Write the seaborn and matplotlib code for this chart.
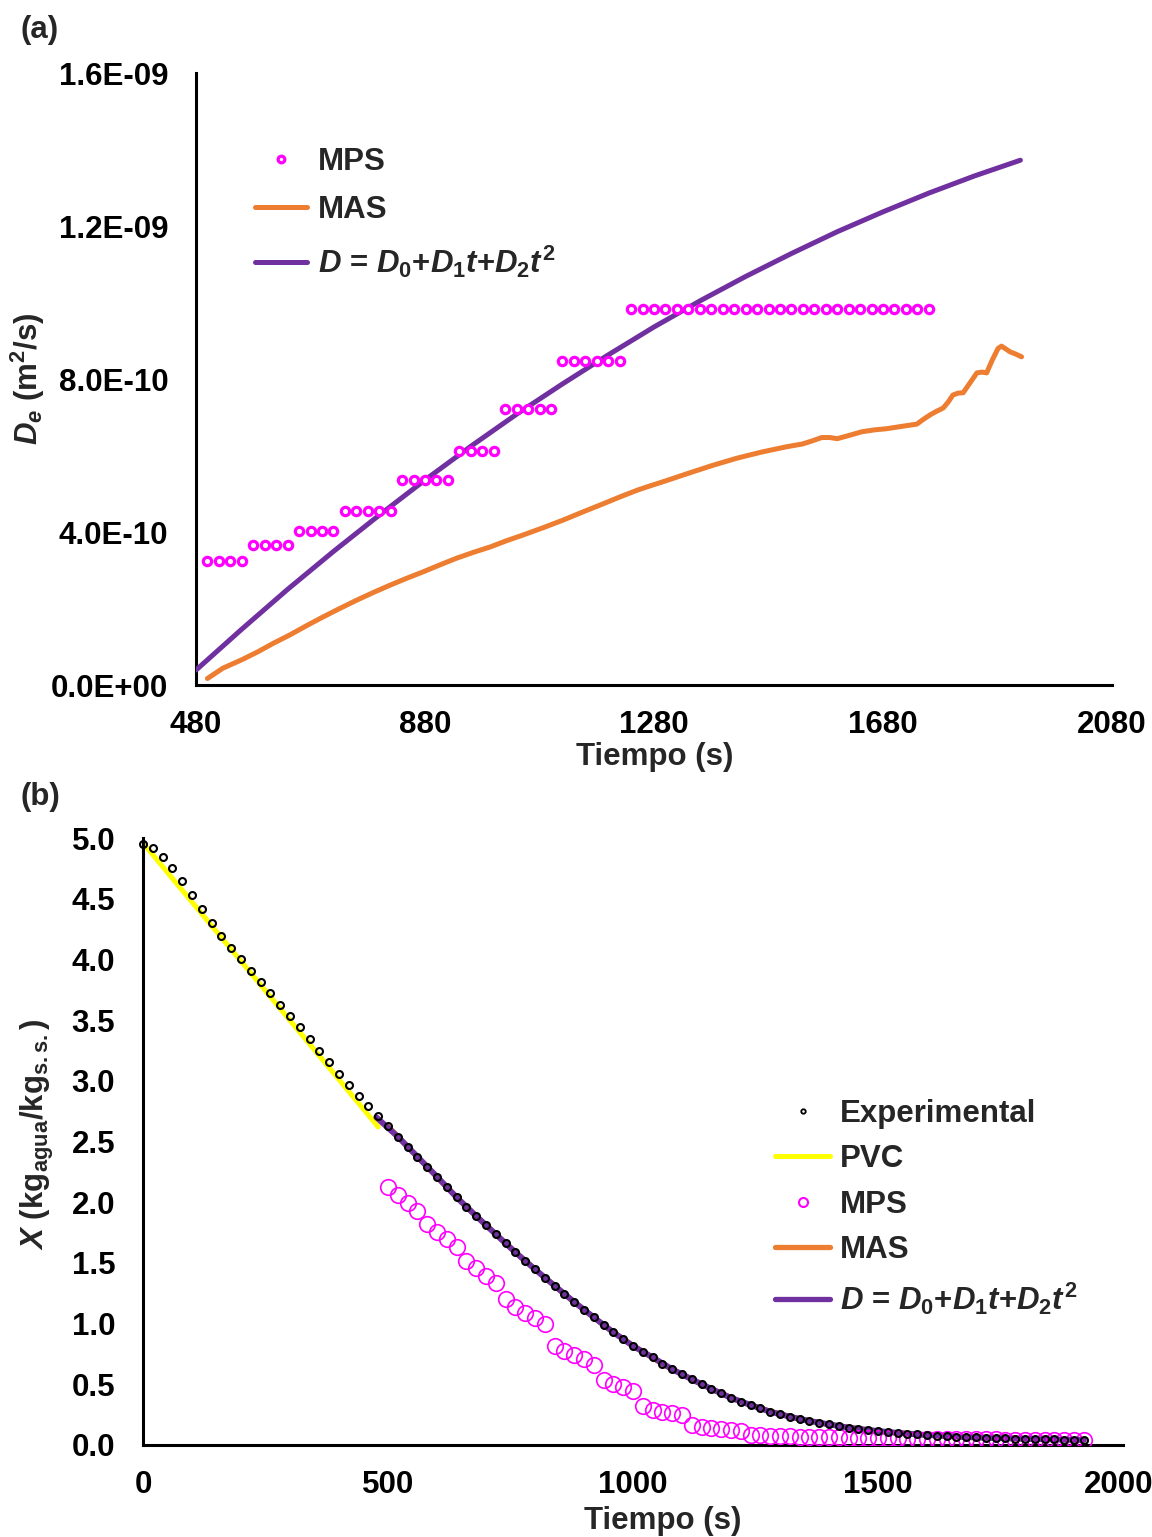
import matplotlib
matplotlib.use("Agg")
import matplotlib.pyplot as plt
import matplotlib.transforms as mtransforms
from matplotlib.lines import Line2D
import seaborn as sns
import numpy as np

# ---------------- Panel (a) data ----------------
a_xticks = [480, 880, 1280, 1680, 2080]
a_yticks = [0.0, 4.0e-10, 8.0e-10, 1.2e-9, 1.6e-9]
a_yticklabels = ["0.0E+00", "4.0E-10", "8.0E-10", "1.2E-09", "1.6E-09"]

a_mps_t = [500, 520, 540, 560,
           580, 600, 620, 640,
           660, 680, 700, 720,
           740, 760, 780, 800, 820,
           840, 860, 880, 900, 920,
           940, 960, 980, 1000,
           1020, 1040, 1060, 1080, 1100,
           1120, 1140, 1160, 1180, 1200, 1220,
           1240, 1260, 1280, 1300, 1320, 1340, 1360, 1380, 1400, 1420, 1440,
           1460, 1480, 1500, 1520, 1540, 1560, 1580, 1600, 1620, 1640, 1660,
           1680, 1700, 1720, 1740, 1760]
a_mps_D = [3.24e-10, 3.24e-10, 3.24e-10, 3.24e-10,
           3.66e-10, 3.66e-10, 3.66e-10, 3.66e-10,
           4.03e-10, 4.03e-10, 4.03e-10, 4.03e-10,
           4.55e-10, 4.55e-10, 4.55e-10, 4.55e-10, 4.55e-10,
           5.36e-10, 5.36e-10, 5.36e-10, 5.36e-10, 5.36e-10,
           6.12e-10, 6.12e-10, 6.12e-10, 6.12e-10,
           7.22e-10, 7.22e-10, 7.22e-10, 7.22e-10, 7.22e-10,
           8.47e-10, 8.47e-10, 8.47e-10, 8.47e-10, 8.47e-10, 8.47e-10,
           9.83e-10, 9.83e-10, 9.83e-10, 9.83e-10, 9.83e-10, 9.83e-10, 9.83e-10,
           9.83e-10, 9.83e-10, 9.83e-10, 9.83e-10, 9.83e-10, 9.83e-10, 9.83e-10,
           9.83e-10, 9.83e-10, 9.83e-10, 9.83e-10, 9.83e-10, 9.83e-10, 9.83e-10,
           9.83e-10, 9.83e-10, 9.83e-10, 9.83e-10, 9.83e-10, 9.83e-10]

a_mas_t = [500, 527, 560, 587, 615, 644, 673, 702, 731, 761, 790, 819, 848, 877,
           906, 936, 965, 994, 1022, 1051, 1086, 1121, 1155, 1190, 1221, 1252,
           1274, 1295, 1317, 1339, 1382, 1425, 1468, 1512, 1539, 1556, 1573,
           1587, 1600, 1622, 1643, 1665, 1686, 1712, 1739, 1751, 1762, 1774,
           1785, 1794, 1802, 1811, 1820, 1832, 1844, 1853, 1861, 1871, 1881,
           1887, 1894, 1902, 1912, 1922]
a_mas_D = [0.17e-10, 0.44e-10, 0.66e-10, 0.86e-10, 1.09e-10, 1.31e-10, 1.55e-10,
           1.78e-10, 2.00e-10, 2.22e-10, 2.42e-10, 2.61e-10, 2.79e-10, 2.96e-10,
           3.14e-10, 3.32e-10, 3.47e-10, 3.61e-10, 3.77e-10, 3.92e-10, 4.11e-10,
           4.31e-10, 4.52e-10, 4.73e-10, 4.92e-10, 5.10e-10, 5.21e-10, 5.31e-10,
           5.42e-10, 5.53e-10, 5.74e-10, 5.93e-10, 6.09e-10, 6.23e-10, 6.30e-10,
           6.38e-10, 6.47e-10, 6.47e-10, 6.44e-10, 6.53e-10, 6.62e-10, 6.67e-10,
           6.70e-10, 6.76e-10, 6.82e-10, 6.95e-10, 7.06e-10, 7.16e-10, 7.24e-10,
           7.40e-10, 7.58e-10, 7.63e-10, 7.64e-10, 7.90e-10, 8.16e-10, 8.18e-10,
           8.16e-10, 8.50e-10, 8.80e-10, 8.86e-10, 8.79e-10, 8.71e-10, 8.65e-10,
           8.58e-10]

a_poly_t = [480, 560, 640, 720, 800, 880, 960, 1040, 1120, 1200, 1280, 1360,
            1440, 1520, 1600, 1680, 1760, 1840, 1920]
a_poly_D = [0.39e-10, 1.46e-10, 2.50e-10, 3.49e-10, 4.44e-10, 5.36e-10, 6.24e-10,
            7.08e-10, 7.87e-10, 8.63e-10, 9.36e-10, 10.04e-10, 10.68e-10,
            11.28e-10, 11.85e-10, 12.37e-10, 12.86e-10, 13.31e-10, 13.72e-10]

# ---------------- Panel (b) data ----------------
b_xticks = [0, 500, 1000, 1500, 2000]
b_yticks = [0.0, 0.5, 1.0, 1.5, 2.0, 2.5, 3.0, 3.5, 4.0, 4.5, 5.0]

b_exp_t = [0, 20, 40, 60, 80, 100, 120, 140, 160, 180, 200, 220, 240, 260, 280,
           300, 320, 340, 360, 380, 400, 420, 440, 460, 480, 500, 520, 540, 560,
           580, 600, 620, 640, 660, 680, 700, 720, 740, 760, 780, 800, 820, 840,
           860, 880, 900, 920, 940, 960, 980, 1000, 1020, 1040, 1060, 1080, 1100,
           1120, 1140, 1160, 1180, 1200, 1220, 1240, 1260, 1280, 1300, 1320, 1340,
           1360, 1380, 1400, 1420, 1440, 1460, 1480, 1500, 1520, 1540, 1560, 1580,
           1600, 1620, 1640, 1660, 1680, 1700, 1720, 1740, 1760, 1780, 1800, 1820,
           1840, 1860, 1880, 1900, 1920]
b_exp_X = [4.95, 4.915, 4.846, 4.750, 4.646, 4.530, 4.415, 4.302, 4.193, 4.096,
           4.001, 3.907, 3.811, 3.721, 3.627, 3.534, 3.441, 3.342, 3.248, 3.155,
           3.059, 2.968, 2.877, 2.792, 2.713, 2.625, 2.540, 2.457, 2.375, 2.292,
           2.210, 2.123, 2.040, 1.963, 1.886, 1.810, 1.736, 1.661, 1.587, 1.518,
           1.447, 1.378, 1.312, 1.244, 1.178, 1.112, 1.052, 0.988, 0.928, 0.873,
           0.815, 0.769, 0.722, 0.667, 0.624, 0.582, 0.541, 0.500, 0.462, 0.426,
           0.388, 0.357, 0.330, 0.302, 0.274, 0.255, 0.233, 0.214, 0.198, 0.184,
           0.170, 0.156, 0.143, 0.132, 0.124, 0.115, 0.107, 0.099, 0.093, 0.088,
           0.082, 0.077, 0.074, 0.068, 0.065, 0.062, 0.059, 0.057, 0.055, 0.053,
           0.051, 0.049, 0.047, 0.046, 0.044, 0.043, 0.042]

b_pvc_t = [0, 480]
b_pvc_X = [4.96, 2.62]

b_mps_t = [500, 520, 540, 560, 580, 600, 620, 640, 660, 680, 700, 720, 740, 760,
           780, 800, 820, 840, 860, 880, 900, 920, 940, 960, 980, 1000, 1020,
           1040, 1060, 1080, 1100, 1120, 1140, 1160, 1180, 1200, 1220, 1240, 1260,
           1280, 1300, 1320, 1340, 1360, 1380, 1400, 1420, 1440, 1460, 1480, 1500,
           1520, 1540, 1560, 1580, 1600, 1620, 1640, 1660, 1680, 1700, 1720, 1740,
           1760, 1780, 1800, 1820, 1840, 1860, 1880, 1900, 1920]
b_mps_X = [2.128, 2.060, 1.996, 1.930, 1.820, 1.757, 1.694, 1.628, 1.516, 1.455,
           1.395, 1.337, 1.200, 1.139, 1.090, 1.044, 0.994, 0.815, 0.777, 0.741,
           0.706, 0.659, 0.535, 0.502, 0.475, 0.447, 0.321, 0.288, 0.274, 0.261,
           0.247, 0.165, 0.146, 0.138, 0.129, 0.124, 0.118, 0.085, 0.080, 0.077,
           0.074, 0.072, 0.070, 0.068, 0.066, 0.064, 0.062, 0.060, 0.059, 0.057,
           0.056, 0.055, 0.054, 0.053, 0.052, 0.051, 0.050, 0.049, 0.048, 0.048,
           0.047, 0.046, 0.046, 0.045, 0.045, 0.044, 0.044, 0.043, 0.043, 0.042,
           0.042, 0.041]

b_mas_t = [500, 540, 580, 620, 660, 700, 740, 780, 820, 860, 900, 940, 980, 1020,
           1060, 1100, 1140, 1180, 1220, 1260, 1300, 1340, 1380, 1420, 1460, 1500,
           1540, 1580, 1620, 1660, 1700, 1740, 1780, 1820, 1860, 1900, 1920]
b_mas_X = [2.625, 2.457, 2.292, 2.123, 1.963, 1.810, 1.661, 1.518, 1.378, 1.244,
           1.112, 0.988, 0.873, 0.769, 0.667, 0.582, 0.500, 0.426, 0.357, 0.302,
           0.255, 0.214, 0.184, 0.156, 0.132, 0.115, 0.099, 0.088, 0.077, 0.068,
           0.062, 0.057, 0.053, 0.049, 0.046, 0.043, 0.042]

b_poly_t = [476, 520, 560, 600, 640, 680, 720, 760, 800, 840, 880, 920, 960, 1000,
            1040, 1080, 1120, 1160, 1200, 1240, 1280, 1320, 1360, 1400, 1440, 1480,
            1520, 1560, 1600, 1640, 1680, 1720, 1760, 1800, 1840, 1880, 1920]
b_poly_X = [2.700, 2.540, 2.375, 2.210, 2.040, 1.886, 1.736, 1.587, 1.447, 1.312,
            1.178, 1.052, 0.928, 0.815, 0.722, 0.624, 0.541, 0.462, 0.388, 0.330,
            0.274, 0.233, 0.198, 0.170, 0.143, 0.124, 0.107, 0.093, 0.082, 0.074,
            0.065, 0.059, 0.055, 0.051, 0.047, 0.044, 0.042]

# ---------------- style ----------------
PURPLE = "#7030A0"
ORANGE = "#ED7D31"
MAGENTA = "#FF00FF"
YELLOW = "#FFFF00"
FS = 22.5

sns.set_style("white")
plt.rcParams["font.family"] = ["Liberation Sans", "DejaVu Sans"]
plt.rcParams["font.weight"] = "bold"
plt.rcParams["mathtext.fontset"] = "custom"
plt.rcParams["mathtext.rm"] = "Liberation Sans:bold"
plt.rcParams["mathtext.it"] = "Liberation Sans:italic:bold"
plt.rcParams["mathtext.bf"] = "Liberation Sans:bold"
plt.rcParams["axes.unicode_minus"] = False

W, H = 1152, 1537
fig = plt.figure(figsize=(W / 100, H / 100), dpi=100)
fig.patch.set_facecolor("white")

ax1 = fig.add_axes([196 / W, 1 - 685 / H, 916 / W, 612 / H])
ax2 = fig.add_axes([143 / W, 1 - 1445 / H, 980 / W, 607 / H])

poly_label = r"$D$ = $D_0$+$D_1t$+$D_2t^2$"

# ---------------- Panel (a) ----------------
sns.lineplot(x=a_mas_t, y=a_mas_D, ax=ax1, color=ORANGE, linewidth=3.6,
             sort=False, estimator=None, solid_capstyle="round",
             solid_joinstyle="round", zorder=2)
sns.lineplot(x=a_poly_t, y=a_poly_D, ax=ax1, color=PURPLE, linewidth=3.6,
             sort=False, estimator=None, zorder=3)
sns.lineplot(x=a_mps_t, y=a_mps_D, ax=ax1, color=MAGENTA, linestyle="",
             marker="o", markersize=6.0, markerfacecolor="white",
             markeredgecolor=MAGENTA, markeredgewidth=2.3,
             sort=False, estimator=None, zorder=4)

ax1.set_xlim(480, 2080)
ax1.set_ylim(0, 1.6e-9)
ax1.set_xticks(a_xticks)
ax1.set_xticklabels([str(v) for v in a_xticks])
ax1.set_yticks(a_yticks)
ax1.set_yticklabels(a_yticklabels)

h_a = [Line2D([], [], linestyle="", marker="o", markersize=4.8,
              markerfacecolor="white", markeredgecolor=MAGENTA, markeredgewidth=2.3),
       Line2D([], [], color=ORANGE, linewidth=3.6, solid_capstyle="round"),
       Line2D([], [], color=PURPLE, linewidth=3.6, solid_capstyle="round")]
ax1.legend(h_a, ["MPS", "MAS", poly_label], loc="upper left",
           bbox_to_anchor=((255 - 196) / 916, (685 - 147) / 612),
           frameon=False, prop={"size": FS, "weight": "bold"},
           handlelength=1.66, handletextpad=0.35, labelspacing=0.58,
           borderpad=0, borderaxespad=0)

ax1.set_xlabel("Tiempo (s)", fontsize=FS, fontweight="bold")
ax1.set_ylabel(r"$D_e$ (m$^2$/s)", fontsize=FS, fontweight="bold")
ax1.xaxis.set_label_coords(0.501, -0.093)
ax1.yaxis.set_label_coords((47 - 196) / 916, 0.50)

# ---------------- Panel (b) ----------------
sns.lineplot(x=b_pvc_t, y=b_pvc_X, ax=ax2, color=YELLOW, linewidth=3.6,
             sort=False, estimator=None, zorder=2)
sns.lineplot(x=b_mas_t, y=b_mas_X, ax=ax2, color=ORANGE, linewidth=3.8,
             sort=False, estimator=None, zorder=2)
sns.lineplot(x=b_poly_t, y=b_poly_X, ax=ax2, color=PURPLE, linewidth=4.2,
             sort=False, estimator=None, zorder=3)
sns.lineplot(x=b_mps_t, y=b_mps_X, ax=ax2, color=MAGENTA, linestyle="",
             marker="o", markersize=11.2, markerfacecolor="none",
             markeredgecolor=MAGENTA, markeredgewidth=1.2,
             sort=False, estimator=None, zorder=4)
sns.lineplot(x=b_exp_t, y=b_exp_X, ax=ax2, color="black", linestyle="",
             marker="o", markersize=5.0, markerfacecolor="none",
             markeredgecolor="black", markeredgewidth=1.5,
             sort=False, estimator=None, zorder=5, clip_on=False)

ax2.set_xlim(0, 2000)
ax2.set_ylim(0, 5.0)
ax2.set_xticks(b_xticks)
ax2.set_xticklabels([str(v) for v in b_xticks])
ax2.set_yticks(b_yticks)
ax2.set_yticklabels([f"{v:.1f}" for v in b_yticks])

h_b = [Line2D([], [], linestyle="", marker="o", markersize=3.2,
              markerfacecolor="none", markeredgecolor="black", markeredgewidth=1.3),
       Line2D([], [], color=YELLOW, linewidth=3.6),
       Line2D([], [], linestyle="", marker="o", markersize=6.5,
              markerfacecolor="none", markeredgecolor=MAGENTA, markeredgewidth=1.5),
       Line2D([], [], color=ORANGE, linewidth=3.8, solid_capstyle="round"),
       Line2D([], [], color=PURPLE, linewidth=3.8, solid_capstyle="round")]
ax2.legend(h_b, ["Experimental", "PVC", "MPS", "MAS", poly_label],
           loc="upper left",
           bbox_to_anchor=((775 - 143) / 980, (1445 - 1099) / 607),
           frameon=False, prop={"size": FS, "weight": "bold"},
           handlelength=1.76, handletextpad=0.32, labelspacing=0.49,
           borderpad=0, borderaxespad=0)

ax2.set_xlabel("Tiempo (s)", fontsize=FS, fontweight="bold")
ax2.set_ylabel(r"$X$ (kg$_{\mathrm{agua}}$/kg$_{\mathrm{s.s.}}$)",
               fontsize=FS, fontweight="bold")
ax2.xaxis.set_label_coords(0.5306, -0.101)
ax2.yaxis.set_label_coords((56 - 143) / 980, 0.512)

# ---------------- common axis styling ----------------
for ax in (ax1, ax2):
    ax.set_facecolor("white")
    ax.grid(False)
    for side in ("top", "right"):
        ax.spines[side].set_visible(False)
    for side in ("left", "bottom"):
        ax.spines[side].set_visible(True)
        ax.spines[side].set_color("black")
        ax.spines[side].set_linewidth(2.2)
    ax.tick_params(axis="both", length=0, labelsize=FS, colors="black")
    ax.tick_params(axis="y", pad=20)
    ax.tick_params(axis="x", pad=18)
    for lab in ax.get_xticklabels() + ax.get_yticklabels():
        lab.set_fontweight("bold")

# keep the last x tick label of panel (b) inside the canvas
last = ax2.get_xticklabels()[-1]
last.set_transform(last.get_transform() +
                   mtransforms.ScaledTranslation(-4 / 100, 0, fig.dpi_scale_trans))

fig.text(20 / W, 1 - 30 / H, "(a)", fontsize=FS, fontweight="bold",
         ha="left", va="center")
fig.text(20 / W, 1 - 797 / H, "(b)", fontsize=FS, fontweight="bold",
         ha="left", va="center")

fig.savefig("out.png", dpi=100, facecolor="white")
